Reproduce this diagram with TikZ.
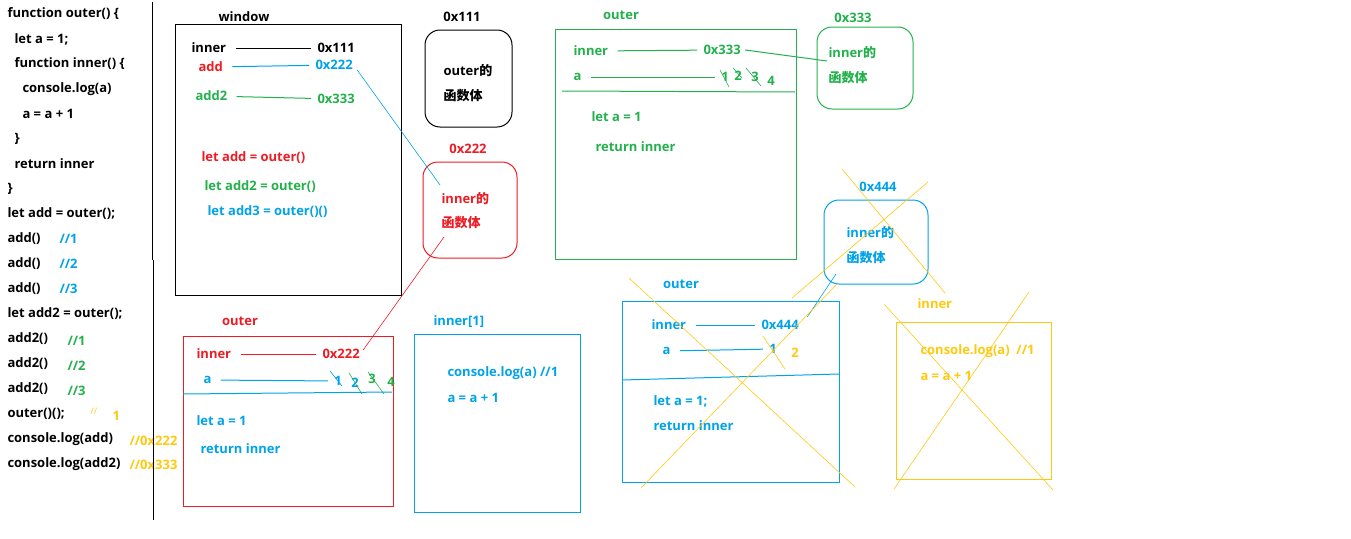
\documentclass[tikz,border=0pt]{standalone}
\usepackage{fontspec}
\setmainfont{Open Sans}
\newfontfamily\cjk{Noto Sans CJK SC}
\usepackage{tikz}
\definecolor{pred}{RGB}{237,28,36}
\definecolor{pblue}{RGB}{0,162,232}
\definecolor{pgreen}{RGB}{34,177,76}
\definecolor{pyellow}{RGB}{255,201,14}

\begin{document}
\begin{tikzpicture}[x = 1pt, y = -1pt, line width = 1pt,
                    txt/.style = {anchor = west, inner sep = 0pt, font = \bfseries\fontsize{13}{15}\selectfont},
                    ttl/.style = {inner sep = 0pt, font = \bfseries\fontsize{13}{15}\selectfont},
                    num/.style = {inner sep = 0pt, font = \bfseries\fontsize{13}{15}\selectfont},
                    heap/.style = {rounded corners = 15pt},
                    link/.style = {shorten <= 9pt, shorten >= 6pt},
                    cross/.style = {pyellow, line width = 0.6pt},
                    strike/.style = {line width = 0.6pt}]
  \useasboundingbox (0, 0) rectangle (1351, 538);
  % code column
  \node [txt] (c1) at (7, 14) {function outer() \{};
  \node [txt] (c2) at (14, 39) {let a = 1;};
  \node [txt] (c3) at (14, 64) {function inner() \{};
  \node [txt] (c4) at (22, 89) {console.log(a)};
  \node [txt] (c5) at (22, 114) {a = a + 1};
  \node [txt] (c6) at (14, 139) {\}};
  \node [txt] (c7) at (14, 164) {return inner};
  \node [txt] (c8) at (7, 189) {\}};
  \node [txt] (c9) at (7, 214) {let add = outer();};
  \node [txt] (c10) at (7, 239) {add()};
  \node [txt] (c11) at (7, 264) {add()};
  \node [txt] (c12) at (7, 289) {add()};
  \node [txt] (c13) at (7, 314) {let add2 = outer();};
  \node [txt] (c14) at (7, 339) {add2()};
  \node [txt] (c15) at (7, 364) {add2()};
  \node [txt] (c16) at (7, 389) {add2()};
  \node [txt] (c17) at (7, 414) {outer()();};
  \node [txt] (c18) at (7, 439) {console.log(add)};
  \node [txt] (c19) at (7, 464) {console.log(add2)};
  \node [txt, pblue] (m1) at (59, 239) {//1};
  \node [txt, pblue] (m2) at (59, 264) {//2};
  \node [txt, pblue] (m3) at (59, 289) {//3};
  \node [txt, pgreen] (m4) at (67, 341) {//1};
  \node [txt, pgreen] (m5) at (67, 366) {//2};
  \node [txt, pgreen] (m6) at (67, 391) {//3};
  \node [txt, pyellow, font = \fontsize{9}{10}\selectfont] (m7) at (90, 411) {//};
  \node [txt, pyellow] (m8) at (112, 416) {1};
  \node [txt, pyellow] (m9) at (129, 441) {//0x222};
  \node [txt, pyellow] (m10) at (129, 465) {//0x333};
  \draw (152, 2) -- (152, 260);
  \draw (153, 260) -- (153, 520);

  % window
  \draw (175, 24) rectangle (401, 295);
  \node [ttl] (wt) at (244, 17) {window};
  \node [txt] (w1) at (191, 48) {inner};
  \node [txt] (w1v) at (317, 48) {0x111};
  \node [txt, pred] (w2) at (198, 67) {add};
  \node [txt, pblue] (w2v) at (315, 65) {0x222};
  \node [txt, pgreen] (w3) at (195, 96) {add2};
  \node [txt, pgreen] (w3v) at (317, 99) {0x333};
  \node [txt, pred] (w4) at (201, 158) {let add = outer()};
  \node [txt, pgreen] (w5) at (204, 187) {let add2 = outer()};
  \node [txt, pblue] (w6) at (207, 212) {let add3 = outer()()};
  \draw [link] (w1) -- (w1v);
  \draw [link, pblue] (w2) -- (w2v);
  \draw [link, pgreen] (w3) -- (w3v);

  % heap 0x111
  \draw [heap] (425, 30) rectangle (512, 127);
  \node [ttl] (h1) at (462, 17) {0x111};
  \node [txt] (h1a) at (443, 71) {outer{\cjk 的}};
  \node [txt] (h1b) at (443, 96) {\cjk 函数体};

  % heap 0x222
  \draw [heap, pred] (423, 162) rectangle (517, 258);
  \node [ttl, pred] (h2) at (468, 149) {0x222};
  \node [txt, pred] (h2a) at (441, 199) {inner{\cjk 的}};
  \node [txt, pred] (h2b) at (441, 223) {\cjk 函数体};
  \draw [pblue, line width = 0.6pt] ([shift = {(4, 5)}]w2v.east) -- ([shift = {(-1, -14)}]h2a.west);

  % outer of add
  \draw [pred] (183, 336) rectangle (393, 506);
  \node [ttl, pred] (rt) at (240, 321) {outer};
  \node [txt, pred] (r1) at (196, 354) {inner};
  \node [txt, pred] (r1v) at (322, 354) {0x222};
  \node [txt, pblue] (r2) at (203, 380) {a};
  \node [num, pblue] (r2a) at (338, 381) {1};
  \node [num, pblue] (r2b) at (355, 383) {2};
  \node [num, pgreen] (r2c) at (372, 379) {3};
  \node [num, pgreen] (r2d) at (391, 382) {4};
  \node [txt, pblue] (r3) at (196, 421) {let a = 1};
  \node [txt, pblue] (r4) at (200, 449) {return inner};
  \draw [link, pred] (r1) -- (r1v);
  \draw [link, pblue] (r2) -- (r2a);
  \draw [strike, pblue] (330, 371) -- (342, 386);
  \draw [strike, pgreen] (349, 373) -- (362, 394);
  \draw [strike, pgreen] (368, 372) -- (384, 394);
  \draw [pblue] (183, 394) -- (392, 392);
  \draw [pred, line width = 0.6pt] ([shift = {(3, 14)}]h2b.west) -- ([shift = {(3, -4)}]r1v.east);

  % inner[1]
  \draw [pblue] (414, 334) rectangle (580, 512);
  \node [txt, pblue] (it) at (433, 322) {inner[1]};
  \node [txt, pblue] (i1) at (447, 373) {console.log(a) //1};
  \node [txt, pblue] (i2) at (447, 398) {a = a + 1};

  % outer of add2
  \draw [pgreen] (555, 29) rectangle (796, 259);
  \node [ttl, pgreen] (gt) at (621, 15) {outer};
  \node [txt, pgreen] (g1) at (573, 51) {inner};
  \node [txt, pgreen] (g1v) at (703, 50) {0x333};
  \node [txt, pgreen] (g2) at (573, 77) {a};
  \node [num, pgreen] (g2a) at (725, 77) {1};
  \node [num, pgreen] (g2b) at (738, 76) {2};
  \node [num, pgreen] (g2c) at (755, 77) {3};
  \node [num, pgreen] (g2d) at (771, 81) {4};
  \node [txt, pgreen] (g3) at (591, 117) {let a = 1};
  \node [txt, pgreen] (g4) at (595, 147) {return inner};
  \draw [link, pgreen] (g1) -- (g1v);
  \draw [link, pgreen] (g2) -- (g2a);
  \draw [strike, pgreen] (720, 70) -- (729, 87);
  \draw [strike, pgreen] (733, 68) -- (742, 78);
  \draw [strike, pgreen] (746, 68) -- (761, 86);
  \draw [pgreen] (562, 91) -- (795, 92);

  % heap 0x333
  \draw [heap, pgreen] (817, 27) rectangle (913, 109);
  \node [ttl, pgreen] (h3) at (853, 18) {0x333};
  \node [txt, pgreen] (h3a) at (828, 53) {inner{\cjk 的}};
  \node [txt, pgreen] (h3b) at (828, 78) {\cjk 函数体};
  \draw [pgreen] ([xshift = 4pt]g1v.east) -- ([shift = {(-1, 8)}]h3a.west);

  % heap 0x444
  \draw [heap, pblue] (824, 200) rectangle (928, 284);
  \node [ttl, pblue] (h4) at (878, 187) {0x444};
  \node [txt, pblue] (h4a) at (846, 233) {inner{\cjk 的}};
  \node [txt, pblue] (h4b) at (846, 258) {\cjk 函数体};
  \draw [cross] (842, 169) -- (945, 293);
  \draw [cross] (928, 182) -- (792, 298);

  % outer of outer()()
  \draw [pblue] (622, 301) rectangle (839, 482);
  \node [ttl, pblue] (bt) at (681, 284) {outer};
  \node [txt, pblue] (b1) at (651, 325) {inner};
  \node [txt, pblue] (b1v) at (761, 325) {0x444};
  \node [txt, pblue] (b2) at (662, 351) {a};
  \node [num, pblue] (b2a) at (773, 349) {1};
  \node [num, pyellow] (b2b) at (795, 353) {2};
  \node [txt, pblue] (b3) at (653, 401) {let a = 1;};
  \node [txt, pblue] (b4) at (653, 426) {return inner};
  \draw [link, pblue] (b1) -- (b1v);
  \draw [link, pblue] (b2) -- (b2a);
  \draw [strike, pyellow] (763, 336) -- (785, 369);
  \draw [pblue] (622, 380) -- (839, 374);
  \draw [pblue, line width = 0.6pt] ([shift = {(-10, 16)}]h4b.west) -- ([shift = {(8, -8)}]b1v.east);
  \draw [cross] (629, 278) -- (855, 487);
  \draw [cross] (641, 488) -- (837, 284);

  % inner of outer()()
  \draw [pyellow] (896, 322) rectangle (1051, 479);
  \node [txt, pyellow] (yt) at (917, 304) {inner};
  \node [txt, pyellow] (y1) at (920, 351) {console.log(a)\ \ //1};
  \node [txt, pyellow] (y2) at (920, 376) {a = a + 1};
  \draw [cross] (884, 304) -- (1053, 490);
  \draw [cross] (1029, 292) -- (894, 489);
\end{tikzpicture}
\end{document}
